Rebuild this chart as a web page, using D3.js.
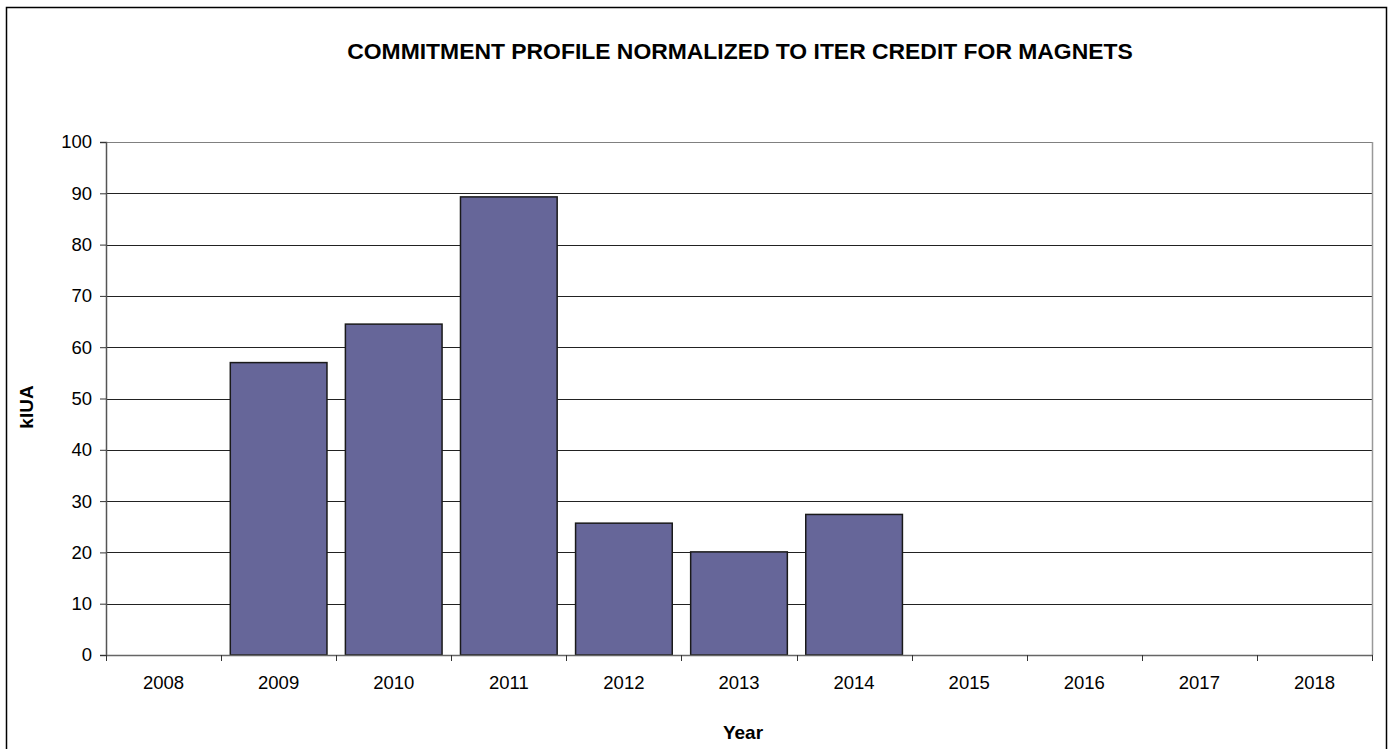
<!DOCTYPE html>
<html>
<head>
<meta charset="utf-8">
<script src="https://cdn.jsdelivr.net/npm/d3@7"></script>
<style>
  html, body { margin: 0; padding: 0; background: #fff; }
  svg { display: block; }
  text { font-family: "Liberation Sans", Arial, sans-serif; fill: #000; }
</style>
</head>
<body>
<svg id="chart" width="1393" height="749"></svg>
<script>
// Commitment per year, in kIUA
const years = ["2008", "2009", "2010", "2011", "2012", "2013", "2014", "2015", "2016", "2017", "2018"];
const commitment = [0, 57.0, 64.5, 89.3, 25.7, 20.1, 27.4, 0, 0, 0, 0];
const yTicks = [0, 10, 20, 30, 40, 50, 60, 70, 80, 90, 100];

const titleText = "COMMITMENT PROFILE NORMALIZED TO ITER CREDIT FOR MAGNETS";
const xTitle = "Year";
const yTitle = "kIUA";

const svg = d3.select("#chart");
const plot = { left: 106, right: 1372, top: 142, bottom: 655 };

// Outer chart frame
svg.append("rect")
  .attr("x", 6.5).attr("y", 7.5)
  .attr("width", 1380).attr("height", 760)
  .attr("fill", "#fff").attr("stroke", "#000").attr("stroke-width", 1.5);

const x = d3.scaleBand()
  .domain(years)
  .range([plot.left, plot.right])
  .paddingInner(0.16)
  .paddingOuter(0.08);

const xEdges = d3.scaleLinear()
  .domain([0, years.length])
  .range([plot.left, plot.right]);

const y = d3.scaleLinear()
  .domain([0, 100])
  .range([plot.bottom, plot.top]);

// Gridlines
svg.append("g")
  .selectAll("line")
  .data(yTicks.filter(d => d > 0))
  .join("line")
  .attr("x1", plot.left).attr("x2", plot.right)
  .attr("y1", d => Math.round(y(d)) + 0.5).attr("y2", d => Math.round(y(d)) + 0.5)
  .attr("stroke", d => d === 100 ? "#808080" : "#222")
  .attr("stroke-width", 1);

// Plot area right border
svg.append("line")
  .attr("x1", plot.right + 0.5).attr("x2", plot.right + 0.5)
  .attr("y1", plot.top).attr("y2", plot.bottom)
  .attr("stroke", "#999").attr("stroke-width", 1.5);

// Bars
svg.append("g")
  .selectAll("rect")
  .data(years.map((yr, i) => ({ yr, v: commitment[i] })).filter(d => d.v > 0))
  .join("rect")
  .attr("x", d => x(d.yr))
  .attr("y", d => y(d.v))
  .attr("width", x.bandwidth())
  .attr("height", d => y(0) - y(d.v))
  .attr("fill", "#666699")
  .attr("stroke", "#1a1a1a")
  .attr("stroke-width", 1.5);

// Y axis
const yAxis = d3.axisLeft(y)
  .tickValues(yTicks)
  .tickSize(6)
  .tickPadding(8)
  .tickFormat(d3.format("d"));
const gy = svg.append("g")
  .attr("transform", `translate(${plot.left},0)`)
  .call(yAxis);
gy.attr("font-size", null).attr("font-family", null);
gy.select(".domain").attr("stroke", "#555").attr("stroke-width", 1.5);
gy.selectAll(".tick line").attr("stroke", "#333");
gy.selectAll(".tick text")
  .style("font-size", "18.5px")
  .style("font-family", "Liberation Sans, Arial, sans-serif");

// X axis: ticks between categories, labels centered
const edgeTicks = d3.range(0, years.length + 1);
const gx = svg.append("g").attr("transform", `translate(0,${plot.bottom})`);
gx.append("line")
  .attr("x1", plot.left).attr("x2", plot.right + 1)
  .attr("y1", 0.5).attr("y2", 0.5)
  .attr("stroke", "#666").attr("stroke-width", 1.5);
gx.selectAll("line.tick")
  .data(edgeTicks)
  .join("line")
  .attr("class", "tick")
  .attr("x1", d => Math.round(xEdges(d)) + 0.5).attr("x2", d => Math.round(xEdges(d)) + 0.5)
  .attr("y1", 0).attr("y2", 6)
  .attr("stroke", "#333");
gx.selectAll("text")
  .data(years)
  .join("text")
  .attr("x", d => x(d) + x.bandwidth() / 2)
  .attr("y", 34)
  .attr("text-anchor", "middle")
  .style("font-size", "18.5px")
  .text(d => d);

// Titles
svg.append("text")
  .attr("x", 740).attr("y", 59)
  .attr("text-anchor", "middle")
  .style("font-size", "22.9px")
  .attr("font-weight", "bold")
  .text(titleText);

svg.append("text")
  .attr("x", 743).attr("y", 739)
  .attr("text-anchor", "middle")
  .style("font-size", "19px")
  .attr("font-weight", "bold")
  .text(xTitle);

svg.append("text")
  .attr("transform", "translate(33,407) rotate(-90)")
  .attr("text-anchor", "middle")
  .style("font-size", "19px")
  .attr("font-weight", "bold")
  .text(yTitle);
</script>
</body>
</html>
